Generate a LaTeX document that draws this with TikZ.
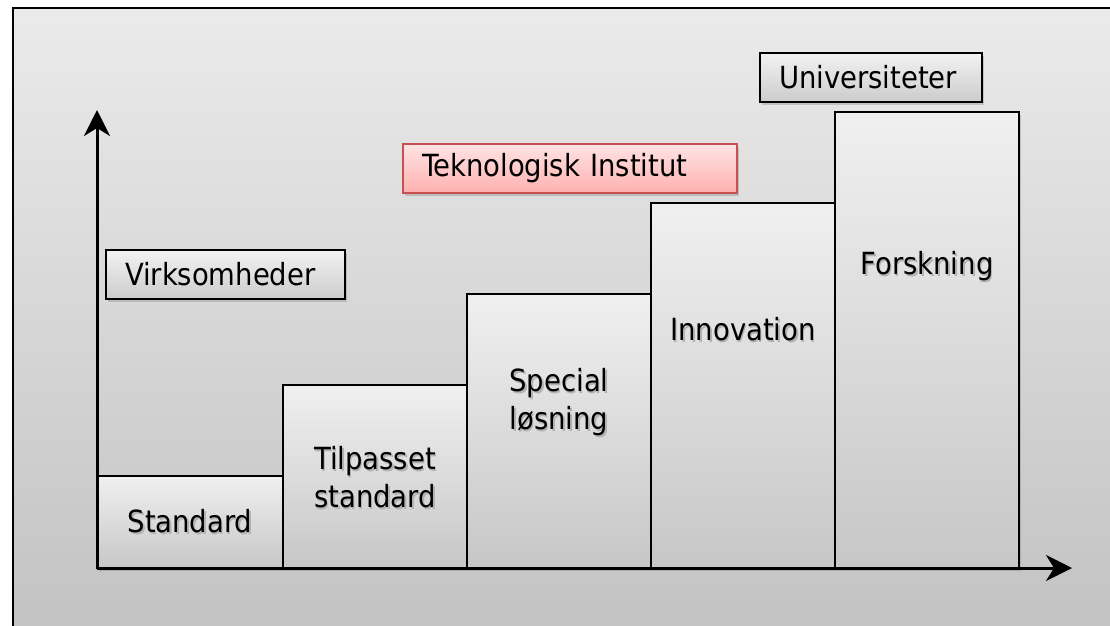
\documentclass[tikz,border=0pt]{standalone}
\usepackage{fontspec}
\setmainfont{DejaVu Sans Condensed}
\usetikzlibrary{arrows.meta,shadows}
\newcommand\shtxt[1]{\leavevmode\rlap{\hspace{1.6pt}\raisebox{-1.6pt}{\textcolor{black!30}{#1}}}#1}
\begin{document}
\begin{tikzpicture}[x=1pt,y=-1pt,
  stepbox/.style={draw=black,line width=2.2pt,inner sep=0pt,outer sep=0pt,anchor=south west,
    top color=white!94!black,bottom color=white!78!black,
    drop shadow={opacity=0.35,shadow xshift=2pt,shadow yshift=-3pt}},
  txt/.style={font=\fontsize{30.5}{38}\selectfont,align=center,inner sep=0pt},
  tagbox/.style={draw=black,line width=1.8pt,anchor=north west,minimum height=49pt,
    inner xsep=19pt,inner ysep=0pt,outer sep=0pt,align=left,
    font=\fontsize{30.5}{38}\selectfont,
    top color=white!95!black,bottom color=white!80!black,
    drop shadow={opacity=0.35,shadow xshift=2pt,shadow yshift=-3pt}},
  pinkbox/.style={tagbox,draw={rgb,255:red,200;green,80;blue,80},
    top color={rgb,255:red,255;green,228;blue,228},bottom color={rgb,255:red,255;green,176;blue,176}},
  axis/.style={line width=3pt,-{Stealth[length=26pt,width=26pt,inset=8pt]}}
]
\useasboundingbox (0,0) rectangle (1110,625);
\begin{scope}
\clip (0,0) rectangle (1110,625);
\path[draw=black,line width=1.8pt,top color=white!92!black,bottom color=white!76!black]
  (13,8) rectangle (1125,640);
\end{scope}

\node[stepbox,minimum width=186pt,minimum height=92pt] (std) at (97,568) {};
\node[stepbox,minimum width=184pt,minimum height=183pt] (tilp) at (283,568) {};
\node[stepbox,minimum width=184pt,minimum height=274pt] (spec) at (467,568) {};
\node[stepbox,minimum width=184pt,minimum height=365pt] (inno) at (651,568) {};
\node[stepbox,minimum width=184pt,minimum height=456pt] (forsk) at (835,568) {};

\node[txt] (tstd) at (190,522) {\shtxt{Standard}};
\node[txt] (ttilp) at (375,478) {\shtxt{Tilpasset}\\\shtxt{standard}};
\node[txt] (tspec) at (559,403) {\shtxt{Special}\\\shtxt{løsning}};
\node[txt] (tinno) at (743,330) {\shtxt{Innovation}};
\node[txt] (tforsk) at (927,267) {\shtxt{Forskning}};

\coordinate (orig) at (97,568);
\coordinate (ytip) at (97,110);
\coordinate (xtip) at (1072,568);
\draw[axis] (orig) -- (ytip);
\draw[axis] (orig) -- (xtip);

\node[tagbox,minimum width=239pt,text width=201pt] (virk) at (106,250) {Virksomheder};
\node[pinkbox,minimum width=334pt,text width=296pt] (tek) at (403,144) {Teknologisk Institut};
\node[tagbox,minimum width=222pt,text width=184pt] (uni) at (760,53) {Universiteter};
\end{tikzpicture}
\end{document}
